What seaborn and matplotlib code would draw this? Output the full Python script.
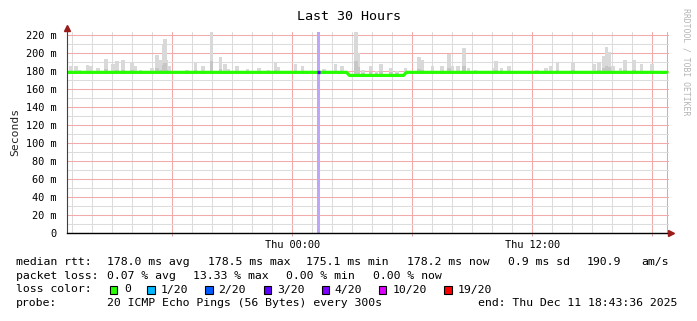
import matplotlib
matplotlib.use("Agg")
import numpy as np
import pandas as pd
import matplotlib.pyplot as plt
import seaborn as sns
from matplotlib.patches import Rectangle

# ---------------- data (hours relative to Thu 00:00) ----------------
start_h = -11.273          # Wed 12:43:36
end_h = 18.727             # Thu 18:43:36

median_t = [-11.273, 2.70, 2.85, 5.55, 5.70, 18.727]
median_ms = [178.5, 178.5, 175.1, 175.1, 178.5, 178.5]

loss_t = [1.325]           # interval with 3/20 loss
loss_ms = [178.5]

smoke_t = [-11.075, -10.825, -10.65, -10.25, -10.075, -9.725, -9.325, -8.975, -8.775,
           -8.475, -8.025, -7.85, -7.6, -7.025, -6.775, -6.6, -6.45, -6.375, -6.3,
           -6.175, -5.275, -4.85, -4.475, -4.05, -3.6, -3.375, -3.2, -2.775, -2.25,
           -1.675, -1.2, -0.85, -0.7, 0.15, 0.5, 1.575, 2.15, 2.475, 3.175, 3.275,
           3.525, 3.9, 4.2, 4.425, 4.925, 5.225, 5.65, 6.325, 6.5, 7.0, 7.475, 7.825,
           7.975, 8.275, 8.575, 8.8, 9.15, 10.05, 10.175, 10.45, 10.825, 12.225,
           12.675, 12.9, 13.25, 14.025, 15.075, 15.325, 15.575, 15.7, 15.825, 16.025,
           16.4, 16.625, 17.075, 17.45, 17.975]
smoke_max = [186, 185, 181, 187, 185, 183, 193, 188, 191,
             192, 190, 185, 181, 183, 198, 192, 210, 216, 192,
             185, 180.6, 189, 186, 224, 195, 188, 182, 185, 182,
             183, 181, 190, 184, 188, 186, 182, 188, 185, 224, 200,
             181, 186, 180, 188, 183, 180, 183, 195, 192, 185, 185, 198.5,
             186, 186, 205, 183, 181, 183, 191, 183, 185, 181,
             183, 186, 190, 190, 188, 190, 197, 207, 201, 186,
             183, 192, 192, 188, 188]
smoke_min = 177.0

y_ticks = list(range(0, 221, 20))
x_tick_pos = [0, 12]
x_tick_labels = ["Thu 00:00", "Thu 12:00"]

legend_rows = [
    [(16, "median rtt:"), (107, "178.0 ms avg"), (207.5, "178.5 ms max"), (306, "175.1 ms min"),
     (407.5, "178.2 ms now"), (507.5, "0.9 ms sd"), (586.5, "190.9"), (641.5, "am/s")],
    [(16, "packet loss:"), (107, "0.07 % avg"), (193, "13.33 % max"), (286.5, "0.00 % min"),
     (373.3, "0.00 % now")],
    [(16, "loss color:")],
    [(16, "probe:"), (107, "20 ICMP Echo Pings (56 Bytes) every 300s"),
     (478.5, "end: Thu Dec 11 18:43:36 2025")],
]
loss_labels = ["0", "1/20", "2/20", "3/20", "4/20", "10/20", "19/20"]
loss_colors = ["#26ff00", "#00b8ff", "#0059ff", "#5e00ff", "#7e00ff", "#dd00ff", "#ff0000"]
loss_box_x = [109.5, 147, 205, 263.5, 321.5, 379, 444.3]
loss_lbl_x = [124, 160.5, 218.5, 277, 334, 392.3, 457.3]

# ---------------- figure ----------------
sns.set_theme(style="white")
plt.rcParams["font.family"] = ["DejaVu Sans Mono", "DejaVu Sans"]

W, H = 697, 321
fig = plt.figure(figsize=(W / 100, H / 100), dpi=100)
fig.patch.set_facecolor("white")

ax_left, ax_right, ax_bot, ax_top = 67, 669, 233, 32
ax = fig.add_axes([ax_left / W, 1 - ax_bot / H, (ax_right - ax_left) / W, (ax_bot - ax_top) / H])
ax.set_facecolor("white")

ymax = (ax_bot - ax_top) / 0.9
ax.set_ylim(0, ymax)
ax.set_xlim(start_h, start_h + (ax_right - ax_left) / 20.0)

# grid
ax.set_yticks(y_ticks)
ax.set_yticks(list(range(10, 221, 20)), minor=True)
ax.set_xticks(np.arange(-6, 19, 6))
ax.set_xticks([h for h in range(-11, 19) if h % 6 != 0], minor=True)
ax.grid(which="minor", color="#dcdcdc", linewidth=0.75, zorder=0)
ax.grid(which="major", color="#f2aaaa", linewidth=0.75, zorder=0)
ax.axvline(end_h, color="#f0a0a0", linewidth=0.75, zorder=0.5)

# loss background
for t in loss_t:
    ax.axvspan(t - 0.075, t + 0.075, color="#bea6f8", linewidth=0, zorder=1)

# smoke
smoke_top = np.array(smoke_max)
ax.bar(smoke_t, smoke_top - smoke_min, bottom=smoke_min, width=0.16,
       color="#d9d9d9", linewidth=0, zorder=2)
ax.bar(smoke_t, (smoke_top - smoke_min) * 0.3, bottom=smoke_min, width=0.16,
       color="#c6c6c6", linewidth=0, zorder=2.1)

# median line
df = pd.DataFrame({"t": median_t, "ms": median_ms})
sns.lineplot(data=df, x="t", y="ms", color="#26ff00", linewidth=2.3, ax=ax,
             estimator=None, sort=False, zorder=3)
for t, v in zip(loss_t, loss_ms):
    ax.plot([t - 0.075, t + 0.075], [v, v], color="#5e00ff", linewidth=2.3,
            solid_capstyle="butt", zorder=3.1)

# axes styling
ax.set_xlabel("")
ax.set_ylabel("")
for s in ["top", "right"]:
    ax.spines[s].set_visible(False)
ax.spines["left"].set_color("#404040")
ax.spines["left"].set_linewidth(0.8)
ax.spines["bottom"].set_color("black")
ax.spines["bottom"].set_linewidth(1.0)
ax.spines["left"].set_zorder(4)
ax.spines["bottom"].set_zorder(4)

ax.set_yticklabels(["0" if v == 0 else f"{v} m" for v in y_ticks])
ax.set_xticks(np.arange(-6, 19, 6))
ax.set_xticklabels(["" if v not in x_tick_pos else x_tick_labels[x_tick_pos.index(v)]
                    for v in np.arange(-6, 19, 6)])
ax.tick_params(axis="y", which="major", length=2.5, width=0.7, color="#909090",
               pad=5, labelsize=7.4, labelcolor="black")
ax.tick_params(axis="y", which="minor", length=2.0, width=0.7, color="#c0c0c0")
ax.tick_params(axis="x", which="major", length=2.5, width=0.7, color="#e0a0a0",
               pad=2.5, labelsize=7.4, labelcolor="black", bottom=True)
ax.tick_params(axis="x", which="minor", length=0)

# axis arrows
ax.plot([0], [1 + 4 / (ax_bot - ax_top)], marker="^", markersize=4.5, color="#9b1a1a",
        transform=ax.transAxes, clip_on=False, zorder=5)
ax.plot([1 + 2 / (ax_right - ax_left)], [0], marker=">", markersize=4.5, color="#9b1a1a",
        transform=ax.transAxes, clip_on=False, zorder=5)


def ftext(x, y, s, **kw):
    fig.text(x / W, 1 - y / H, s, **kw)


ftext(349, 16, "Last 30 Hours", ha="center", va="center", fontsize=9.6, color="black")
ftext(15, 132, "Seconds", ha="center", va="center", rotation=90, fontsize=8.2)
ftext(686, 62, "RRDTOOL / TOBI OETIKER", ha="center", va="center", rotation=270,
      fontsize=5.9, color="#b4b4b4")

row_y = [262, 276, 289.5, 303]
for y, row in zip(row_y, legend_rows):
    for x, s in row:
        ftext(x, y, s, ha="left", va="center", fontsize=8.25, color="black")

for bx, lx, lab, col in zip(loss_box_x, loss_lbl_x, loss_labels, loss_colors):
    fig.patches.append(Rectangle((bx / W, 1 - (row_y[2] + 4.0) / H), 7.5 / W, 7.5 / H,
                                 transform=fig.transFigure, facecolor=col,
                                 edgecolor="black", linewidth=0.8))
    ftext(lx, row_y[2], lab, ha="left", va="center", fontsize=8.25, color="black")

fig.savefig("out.png", dpi=100, facecolor="white")
